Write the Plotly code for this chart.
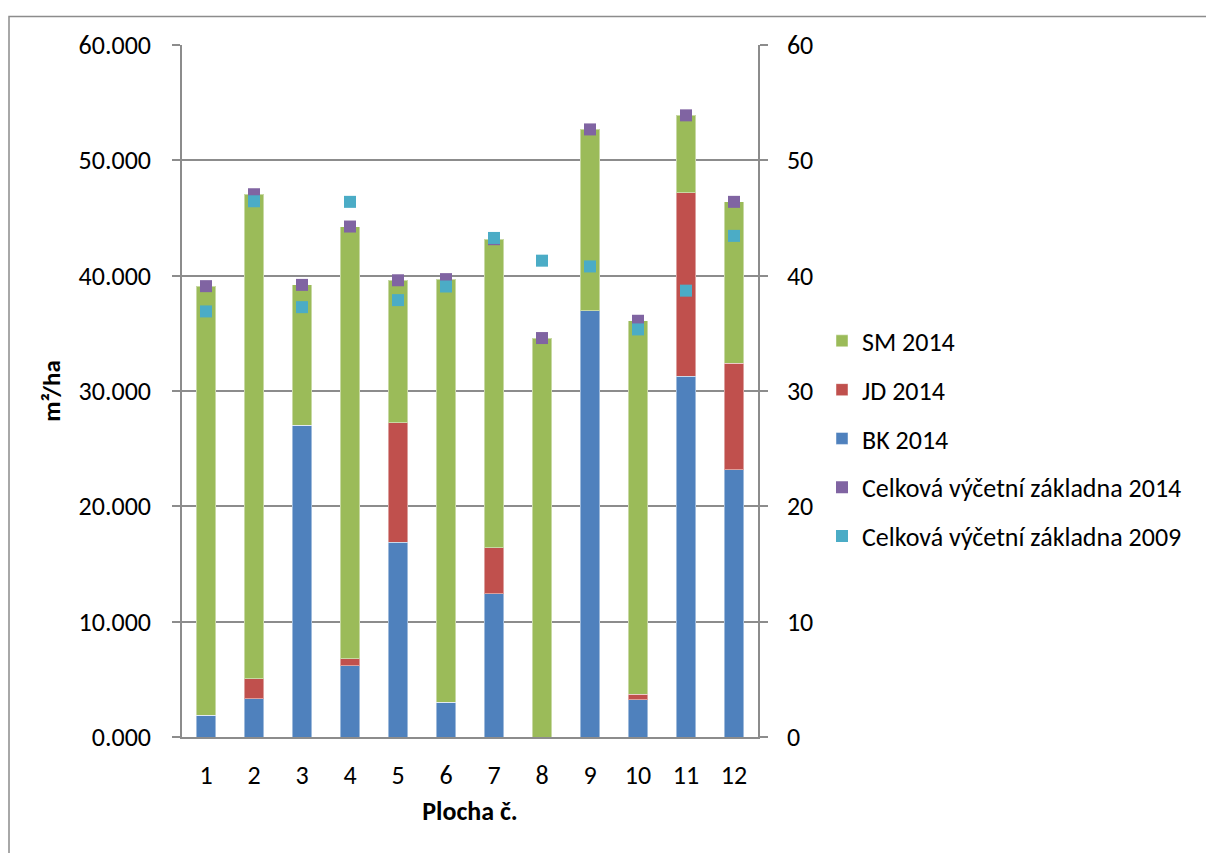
import plotly.graph_objects as go

# Plot numbers 1..12
plochy = [str(i) for i in range(1, 13)]

# Basal area by species in 2014 (m2/ha)
bk_2014 = [1.89, 3.30, 27.03, 6.16, 16.90, 3.01, 12.42, 0.00, 36.95, 3.25, 31.30, 23.16]
jd_2014 = [0.00, 1.76, 0.00, 0.64, 10.33, 0.00, 4.01, 0.00, 0.00, 0.45, 15.87, 9.24]
sm_2014 = [37.20, 42.00, 12.17, 37.46, 12.37, 36.69, 26.73, 34.59, 15.73, 32.39, 6.73, 14.00]

# Total basal area per plot
celkem_2014 = [39.09, 47.06, 39.20, 44.26, 39.60, 39.70, 43.16, 34.59, 52.68, 36.09, 53.90, 46.40]
celkem_2009 = [36.90, 46.45, 37.27, 46.40, 37.88, 39.06, 43.27, 41.30, 40.80, 35.34, 38.70, 43.45]

left_ticks = [0, 10, 20, 30, 40, 50, 60]
left_labels = ["0.000", "10.000", "20.000", "30.000", "40.000", "50.000", "60.000"]

FONT = "Carlito, Calibri, Lato, sans-serif"
GRID = "#8c8c8c"
W, H = 1206, 853
L, R, T, B = 182, 448, 44.5, 115.5

fig = go.Figure()

edge = dict(color="rgba(255,255,255,0.45)", width=1)
fig.add_trace(go.Bar(x=plochy, y=bk_2014, name="BK 2014", marker=dict(color="#4F81BD", line=edge),
                     legendrank=3, legendgroup="bk"))
fig.add_trace(go.Bar(x=plochy, y=jd_2014, name="JD 2014", marker=dict(color="#C0504D", line=edge),
                     legendrank=2, legendgroup="jd"))
fig.add_trace(go.Bar(x=plochy, y=sm_2014, name="SM 2014", marker=dict(color="#9BBB59", line=edge),
                     legendrank=1, legendgroup="sm"))
fig.add_trace(go.Scatter(x=plochy, y=celkem_2014, mode="markers", name="Celková výčetní základna 2014",
                         marker=dict(symbol="square", size=12, color="#8064A2"),
                         yaxis="y2", legendrank=4, legendgroup="c14"))
fig.add_trace(go.Scatter(x=plochy, y=celkem_2009, mode="markers", name="Celková výčetní základna 2009",
                         marker=dict(symbol="square", size=12, color="#4BACC6"),
                         yaxis="y2", legendrank=5, legendgroup="c09"))

# Outer chart frame in paper coordinates
def px_x(p):
    return (p - L) / (W - L - R)

def px_y(p):
    return (H - B - p) / (H - T - B)

fig.add_shape(type="rect", xref="paper", yref="paper",
              x0=px_x(9), x1=px_x(1215), y0=px_y(16), y1=px_y(870),
              line=dict(color="#8c8c8c", width=1.5), fillcolor="rgba(0,0,0,0)", layer="below")

fig.update_layout(
    width=W, height=H,
    margin=dict(l=L, r=R, t=T, b=B, autoexpand=False),
    paper_bgcolor="white", plot_bgcolor="white",
    barmode="stack", bargap=0.6,
    font=dict(family=FONT, size=26, color="#000000"),
    showlegend=True,
    legend=dict(x=px_x(822), xanchor="left", y=px_y(439), yanchor="middle",
                traceorder="grouped", tracegroupgap=12,
                font=dict(family=FONT, size=26), bgcolor="rgba(0,0,0,0)"),
    xaxis=dict(type="category", range=[-0.5, 11.5], showgrid=False,
               showline=True, linecolor=GRID, linewidth=1.5,
               ticks="", ticklabelstandoff=14,
               title=dict(text="<b>Plocha č.</b>", font=dict(family=FONT, size=26), standoff=12)),
    yaxis=dict(range=[0, 60], tickvals=left_ticks, ticktext=left_labels,
               showgrid=True, gridcolor=GRID, gridwidth=1.5,
               showline=True, linecolor=GRID, linewidth=1.5,
               ticks="outside", ticklen=8, tickcolor=GRID, tickwidth=1.5,
               ticklabelstandoff=16, zeroline=False,
               title=dict(text="<b>m²/ha</b>", font=dict(family=FONT, size=25), standoff=11)),
    yaxis2=dict(range=[0, 60], dtick=10, overlaying="y", side="right",
                showgrid=False, showline=True, linecolor=GRID, linewidth=1.5,
                ticks="outside", ticklen=8, tickcolor=GRID, tickwidth=1.5,
                ticklabelstandoff=14, zeroline=False),
)

fig.write_html("out.html")
